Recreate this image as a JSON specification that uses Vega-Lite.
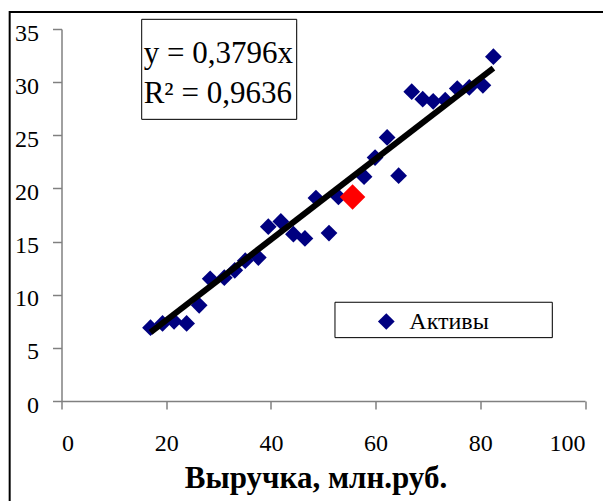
{
  "$schema": "https://vega.github.io/schema/vega-lite/v6.json",
  "autosize": {"type": "none"},
  "width": 523.5,
  "height": 372,
  "padding": {"left": 61.5, "top": 29, "right": 18, "bottom": 100},
  "background": "white",
  "view": {"stroke": null},
  "config": {
    "font": "Liberation Serif",
    "axis": {"grid": false, "labelFont": "Liberation Serif", "labelColor": "black", "labelFontSize": 24, "domainColor": "#808080", "tickColor": "#808080", "domainWidth": 1.5, "tickWidth": 1.5}
  },
  "datasets": {
    "assets": [
      {"revenue": 17.0, "assets": 6.9},
      {"revenue": 19.3, "assets": 7.3},
      {"revenue": 21.5, "assets": 7.5},
      {"revenue": 23.9, "assets": 7.3},
      {"revenue": 26.3, "assets": 9.0},
      {"revenue": 28.4, "assets": 11.5},
      {"revenue": 31.1, "assets": 11.6},
      {"revenue": 33.1, "assets": 12.3},
      {"revenue": 35.1, "assets": 13.2},
      {"revenue": 37.6, "assets": 13.5},
      {"revenue": 39.5, "assets": 16.4},
      {"revenue": 41.9, "assets": 16.9},
      {"revenue": 44.3, "assets": 15.7},
      {"revenue": 46.5, "assets": 15.3},
      {"revenue": 48.6, "assets": 19.1},
      {"revenue": 51.1, "assets": 15.8},
      {"revenue": 52.9, "assets": 19.2},
      {"revenue": 57.8, "assets": 21.1},
      {"revenue": 59.9, "assets": 22.9},
      {"revenue": 62.2, "assets": 24.8},
      {"revenue": 64.4, "assets": 21.2},
      {"revenue": 66.9, "assets": 29.1},
      {"revenue": 69.0, "assets": 28.4},
      {"revenue": 71.0, "assets": 28.2},
      {"revenue": 73.3, "assets": 28.3},
      {"revenue": 75.6, "assets": 29.4},
      {"revenue": 77.9, "assets": 29.5},
      {"revenue": 80.5, "assets": 29.7},
      {"revenue": 82.5, "assets": 32.4}
    ],
    "highlight": [
      {"revenue": 55.6, "assets": 19.2}
    ],
    "trend": [
      {"revenue": 17.0, "assets": 6.45},
      {"revenue": 82.5, "assets": 31.32}
    ],
    "one": [{}]
  },
  "layer": [
    {
      "data": {"name": "assets"},
      "mark": {"type": "point", "shape": "diamond", "filled": true, "opacity": 1, "size": 280, "strokeWidth": 0},
      "encoding": {
        "x": {"field": "revenue", "type": "quantitative", "scale": {"domain": [0, 100]},
          "axis": {"values": [0, 20, 40, 60, 80, 100], "tickSize": 8, "labelPadding": 22, "labelFont": "Liberation Serif", "labelFontSize": 24, "labelColor": "black", "title": "Выручка, млн.руб.", "titleFont": "Liberation Serif", "titleFontSize": 31, "titleFontWeight": "bold", "titleColor": "black", "titleX": 254, "titleY": 86, "titleBaseline": "alphabetic", "titleAnchor": "middle", "titleAlign": "center"}},
        "y": {"field": "assets", "type": "quantitative", "scale": {"domain": [0, 35]},
          "axis": {"values": [0, 5, 10, 15, 20, 25, 30, 35], "tickSize": 9, "labelPadding": 14, "labelOffset": 4, "labelFont": "Liberation Serif", "labelFontSize": 24, "labelColor": "black", "title": null}},
        "color": {"datum": "Активы", "type": "nominal", "scale": {"range": ["#000080"]},
          "legend": {"title": null, "orient": "none", "legendX": 312.8, "legendY": 280.5, "padding": 0, "labelFont": "Liberation Serif", "labelFontSize": 24, "labelColor": "black", "labelOffset": 11, "symbolSize": 280, "symbolType": "diamond", "symbolStrokeWidth": 0}}
      }
    },
    {
      "data": {"name": "one"},
      "mark": {"type": "rect", "fill": null, "stroke": "black", "strokeWidth": 2, "clip": false},
      "encoding": {
        "x": {"datum": -9.9, "type": "quantitative"},
        "x2": {"datum": 120},
        "y": {"datum": 36.6, "type": "quantitative"},
        "y2": {"datum": -18.6}
      }
    },
    {
      "data": {"name": "highlight"},
      "mark": {"type": "point", "shape": "diamond", "filled": true, "opacity": 1, "size": 650, "color": "#FF0000", "strokeWidth": 0},
      "encoding": {
        "x": {"field": "revenue", "type": "quantitative"},
        "y": {"field": "assets", "type": "quantitative"}
      }
    },
    {
      "data": {"name": "trend"},
      "mark": {"type": "line", "color": "black", "strokeWidth": 6, "strokeCap": "butt"},
      "encoding": {
        "x": {"field": "revenue", "type": "quantitative"},
        "y": {"field": "assets", "type": "quantitative"}
      }
    },
    {
      "data": {"name": "one"},
      "mark": {"type": "rect", "fill": "black", "xOffset": 4, "yOffset": 4, "clip": false},
      "encoding": {
        "x": {"datum": 15.32, "type": "quantitative"},
        "x2": {"datum": 44.93},
        "y": {"datum": 35.91, "type": "quantitative"},
        "y2": {"datum": 26.5}
      }
    },
    {
      "data": {"name": "one"},
      "mark": {"type": "rect", "fill": "white", "stroke": "black", "strokeWidth": 1, "clip": false},
      "encoding": {
        "x": {"datum": 15.32, "type": "quantitative"},
        "x2": {"datum": 44.93},
        "y": {"datum": 35.91, "type": "quantitative"},
        "y2": {"datum": 26.5}
      }
    },
    {
      "data": {"name": "one"},
      "mark": {"type": "text", "align": "left", "baseline": "alphabetic", "font": "Liberation Serif", "fontSize": 31, "color": "black"},
      "encoding": {
        "x": {"datum": 15.7, "type": "quantitative"},
        "y": {"datum": 31.77, "type": "quantitative"},
        "text": {"value": "y = 0,3796x"}
      }
    },
    {
      "data": {"name": "one"},
      "mark": {"type": "text", "align": "left", "baseline": "alphabetic", "font": "Liberation Serif", "fontSize": 31, "color": "black"},
      "encoding": {
        "x": {"datum": 15.7, "type": "quantitative"},
        "y": {"datum": 28.0, "type": "quantitative"},
        "text": {"value": "R² = 0,9636"}
      }
    },
    {
      "data": {"name": "one"},
      "mark": {"type": "rect", "fill": "black", "xOffset": 4, "yOffset": 4},
      "encoding": {
        "x": {"datum": 52.24, "type": "quantitative"},
        "x2": {"datum": 93.75},
        "y": {"datum": 9.29, "type": "quantitative"},
        "y2": {"datum": 5.96}
      }
    },
    {
      "data": {"name": "one"},
      "mark": {"type": "rect", "fill": "white", "stroke": "black", "strokeWidth": 1},
      "encoding": {
        "x": {"datum": 52.24, "type": "quantitative"},
        "x2": {"datum": 93.75},
        "y": {"datum": 9.29, "type": "quantitative"},
        "y2": {"datum": 5.96}
      }
    }
  ]
}
